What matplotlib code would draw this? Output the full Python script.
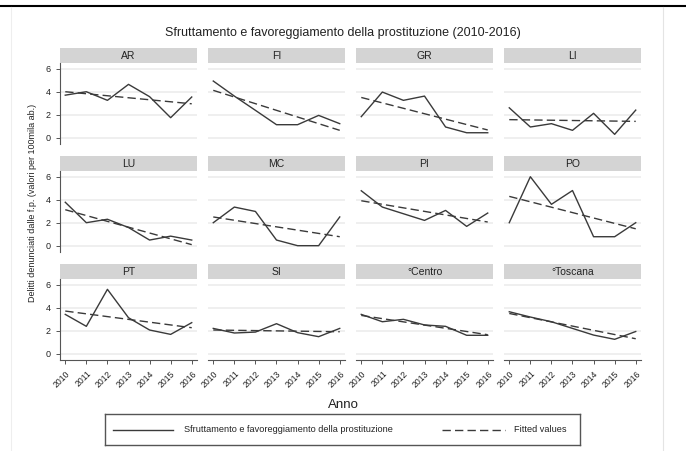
import numpy as np
import matplotlib
matplotlib.use('Agg')
import matplotlib.pyplot as plt
from matplotlib.lines import Line2D

plt.rcParams['font.family'] = ['Liberation Sans', 'DejaVu Sans']

years = [2010, 2011, 2012, 2013, 2014, 2015, 2016]
panels = ['AR', 'FI', 'GR', 'LI', 'LU', 'MC', 'PI', 'PO', 'PT', 'SI', '°Centro', '°Toscana']

# observed values (per 100mila ab.)
vals = {
    'AR': [3.7, 4.0, 3.25, 4.64, 3.57, 1.74, 3.54],
    'FI': [4.93, 3.62, 2.38, 1.13, 1.13, 1.94, 1.22],
    'GR': [1.83, 3.97, 3.25, 3.62, 0.93, 0.43, 0.43],
    'LI': [2.6, 0.93, 1.22, 0.64, 2.12, 0.29, 2.4],
    'LU': [3.78, 2.0, 2.3, 1.58, 0.49, 0.83, 0.49],
    'MC': [2.0, 3.36, 2.98, 0.49, 0.0, 0.0, 2.5],
    'PI': [4.78, 3.36, 2.78, 2.2, 3.07, 1.68, 2.84],
    'PO': [2.0, 6.0, 3.6, 4.8, 0.78, 0.78, 2.0],
    'PT': [3.42, 2.38, 5.6, 3.13, 2.06, 1.68, 2.7],
    'SI': [2.2, 1.8, 1.88, 2.61, 1.83, 1.48, 2.2],
    '°Centro': [3.42, 2.78, 2.99, 2.5, 2.38, 1.6, 1.6],
    '°Toscana': [3.65, 3.19, 2.78, 2.2, 1.62, 1.25, 1.93],
}
# fitted values at 2010 and 2016
fit_start = {'AR': 4.0, 'FI': 4.12, 'GR': 3.5, 'LI': 1.57, 'LU': 3.13, 'MC': 2.5,
             'PI': 3.91, 'PO': 4.29, 'PT': 3.71, 'SI': 2.06, '°Centro': 3.33, '°Toscana': 3.5}
fit_end = {'AR': 2.95, 'FI': 0.64, 'GR': 0.67, 'LI': 1.42, 'LU': 0.09, 'MC': 0.78,
           'PI': 2.06, 'PO': 1.47, 'PT': 2.26, 'SI': 1.91, '°Centro': 1.65, '°Toscana': 1.3}
yticks = [0, 2, 4, 6]

W, H = 686, 451
fig = plt.figure(figsize=(W / 100, H / 100), dpi=100)
fig.patch.set_facecolor('white')

def box(x, y, w, h):
    return [x / W, 1 - (y + h) / H, w / W, h / H]

# page decorations
fig.add_artist(Line2D([0, 1], [1 - 6 / H, 1 - 6 / H], color='black', lw=1.5))
fig.add_artist(Line2D([11 / W, 11 / W], [0, 1 - 7 / H], color='#eeeeee', lw=0.8))
fig.add_artist(Line2D([663 / W, 663 / W], [0, 1 - 7 / H], color='#e4e4e4', lw=0.8))

col_x = [60, 208, 356, 504]
row_y = [48, 156, 264]
pw, hh, ph = 137, 15, 81
line_c = '#3a3a3a'

for i, name in enumerate(panels):
    r, c = divmod(i, 4)
    x0, y0 = col_x[c], row_y[r]
    hax = fig.add_axes(box(x0, y0, pw, hh))
    hax.set_facecolor('#d4d4d4')
    hax.set_xticks([]); hax.set_yticks([])
    for s in hax.spines.values():
        s.set_visible(False)
    hax.text(0.5, 0.47, name, ha='center', va='center', fontsize=7.5, color='#222222',
             transform=hax.transAxes)

    ax = fig.add_axes(box(x0, y0 + hh, pw, ph))
    ax.set_xlim(2009.75, 2016.25)
    ax.set_ylim(-0.55, 6.5)
    for yv in yticks:
        ax.axhline(yv, color='#ececec', lw=1.2, zorder=0)
    ax.plot(years, vals[name], color=line_c, lw=1.0, zorder=3)
    ax.plot([years[0], years[-1]], [fit_start[name], fit_end[name]], color=line_c, lw=1.0,
            ls=(0, (6, 3)), zorder=3)
    for s in ['top', 'right']:
        ax.spines[s].set_visible(False)
    ax.spines['left'].set_visible(c == 0)
    ax.spines['bottom'].set_visible(r == 2)
    ax.spines['left'].set_color('#555555')
    ax.spines['bottom'].set_color('#555555')
    ax.tick_params(colors='#555555', labelcolor='#222222', labelsize=6.5, length=3, width=0.7)
    if c == 0:
        ax.set_yticks(yticks)
    else:
        ax.set_yticks([])
    if r == 2:
        ax.set_xticks(years)
        ax.set_xticklabels([str(y) for y in years], rotation=45, ha='right',
                           rotation_mode='anchor', fontsize=6.2)
    else:
        ax.set_xticks([])

fig.text(343 / W, 1 - 33 / H, 'Sfruttamento e favoreggiamento della prostituzione (2010-2016)',
         ha='center', va='center', fontsize=9, color='#222222')
fig.text(33 / W, 1 - 203 / H, 'Delitti denunciati dalle f.p. (valori per 100mila ab.)',
         ha='center', va='center', rotation=90, fontsize=6.5, color='#222222')
fig.text(343 / W, 1 - 405 / H, 'Anno', ha='center', va='center', fontsize=9.5, color='#222222')

lax = fig.add_axes(box(105, 414, 475, 31))
lax.set_xlim(105, 580); lax.set_ylim(0, 1)
lax.set_xticks([]); lax.set_yticks([])
for s in lax.spines.values():
    s.set_color('#555555'); s.set_linewidth(1.0)
lax.plot([113, 173], [0.5, 0.5], color=line_c, lw=1.0)
lax.text(184, 0.5, 'Sfruttamento e favoreggiamento della prostituzione', va='center', fontsize=6.6,
         color='#222222')
lax.plot([442, 505], [0.5, 0.5], color=line_c, lw=1.0, ls=(0, (6, 3)))
lax.text(514, 0.5, 'Fitted values', va='center', fontsize=6.6, color='#222222')

fig.savefig('out.png', dpi=100, facecolor='white')
